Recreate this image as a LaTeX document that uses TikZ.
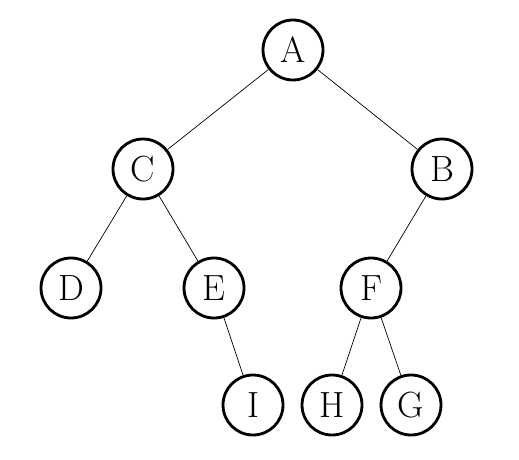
\documentclass[tikz,border=0pt]{standalone}
\begin{document}
\begin{tikzpicture}[x=0.02cm,y=-0.02cm,
  vertex/.style={circle,draw,line width=1.6pt,minimum size=1.2cm,inner sep=0pt,font=\huge},
  edge/.style={line width=0.4pt}]
\useasboundingbox (0,0) rectangle (519,459);
\node[vertex] (A) at (293,50) {A};
\node[vertex] (C) at (143,169) {C};
\node[vertex] (B) at (442,169) {B};
\node[vertex] (D) at (71,288) {D};
\node[vertex] (E) at (214,288) {E};
\node[vertex] (F) at (371,288) {F};
\node[vertex] (I) at (253,405) {I};
\node[vertex] (H) at (332,405) {H};
\node[vertex] (G) at (411,405) {G};
\draw[edge] (A) -- (C);
\draw[edge] (A) -- (B);
\draw[edge] (C) -- (D);
\draw[edge] (C) -- (E);
\draw[edge] (E) -- (I);
\draw[edge] (B) -- (F);
\draw[edge] (F) -- (H);
\draw[edge] (F) -- (G);
\end{tikzpicture}
\end{document}
